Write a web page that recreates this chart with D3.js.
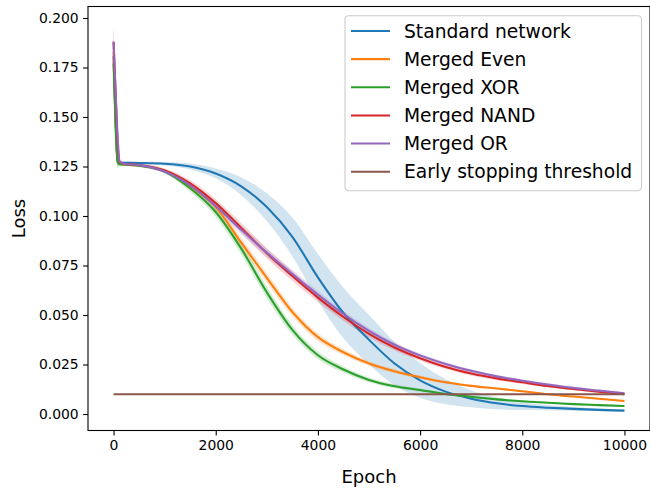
<!DOCTYPE html>
<html>
<head>
<meta charset="utf-8">
<script src="https://cdn.jsdelivr.net/npm/d3@7"></script>
<style>
  html, body { margin: 0; padding: 0; background: #fff; }
  svg { display: block; font-family: "DejaVu Sans", sans-serif; }
</style>
</head>
<body>
<svg id="chart" width="650" height="488"></svg>
<script>
const epochs = [0, 40, 80, 120, 200, 500, 1000, 1500, 2000, 2500, 3000, 3500, 4000,
  4500, 5000, 5500, 6000, 6500, 7000, 7500, 8000, 8500, 9000, 9500, 10000];

const standardMean = [0.181, 0.148, 0.1275, 0.1270, 0.1269, 0.1268, 0.1264, 0.1250, 0.1215, 0.1150, 0.1045, 0.0895, 0.0690,
  0.0510, 0.0375, 0.0255, 0.0170, 0.0113, 0.0077, 0.0054, 0.0040, 0.0032, 0.0026, 0.0021, 0.0017];
const standardStd = [0.006, 0.008, 0.002, 0.0006, 0.0005, 0.0006, 0.0009, 0.0015, 0.0025, 0.0045, 0.007, 0.0098, 0.0118,
  0.0128, 0.0125, 0.011, 0.0088, 0.0064, 0.0043, 0.003, 0.002, 0.0013, 0.0009, 0.0007, 0.0005];

const evenMean = [0.183, 0.150, 0.128, 0.1264, 0.1261, 0.1255, 0.1228, 0.1150, 0.1045, 0.0865, 0.0688, 0.0515, 0.0388,
  0.0312, 0.0255, 0.0216, 0.0186, 0.0160, 0.0142, 0.0129, 0.0115, 0.0100, 0.0088, 0.0077, 0.0066];
const evenStd = [0.006, 0.006, 0.003, 0.001, 0.0008, 0.0008, 0.001, 0.0015, 0.002, 0.0025, 0.0025, 0.0022, 0.002,
  0.0015, 0.0012, 0.001, 0.0008, 0.0007, 0.0006, 0.0005, 0.0005, 0.0004, 0.0004, 0.0004, 0.0003];

const xorMean = [0.177, 0.145, 0.127, 0.1262, 0.1260, 0.1254, 0.1225, 0.1140, 0.1020, 0.0835, 0.0615, 0.0425, 0.0297,
  0.0225, 0.0172, 0.0140, 0.0121, 0.0101, 0.0087, 0.0074, 0.0064, 0.0057, 0.0050, 0.0045, 0.0040];
const xorStd = [0.006, 0.006, 0.003, 0.001, 0.0008, 0.0008, 0.001, 0.0018, 0.0025, 0.003, 0.003, 0.0025, 0.002,
  0.0015, 0.0012, 0.001, 0.0008, 0.0006, 0.0005, 0.0005, 0.0004, 0.0004, 0.0003, 0.0003, 0.0003];

const nandMean = [0.188, 0.162, 0.137, 0.1272, 0.1264, 0.1258, 0.1230, 0.1165, 0.1065, 0.0940, 0.0812, 0.0697, 0.0588,
  0.0490, 0.0405, 0.0336, 0.0282, 0.0238, 0.0205, 0.0180, 0.0160, 0.0141, 0.0126, 0.0112, 0.0100];
const nandStd = [0.008, 0.007, 0.004, 0.0012, 0.0008, 0.0008, 0.001, 0.0015, 0.002, 0.0025, 0.0025, 0.0025, 0.0022,
  0.002, 0.0018, 0.0015, 0.0013, 0.0011, 0.001, 0.0009, 0.0008, 0.0007, 0.0006, 0.0006, 0.0005];

const orMean = [0.188, 0.164, 0.140, 0.1275, 0.1264, 0.1257, 0.1225, 0.1155, 0.1050, 0.0930, 0.0815, 0.0707, 0.0603,
  0.0505, 0.0420, 0.0350, 0.0296, 0.0253, 0.0218, 0.0190, 0.0168, 0.0149, 0.0132, 0.0118, 0.0105];
const orStd = [0.007, 0.007, 0.004, 0.0012, 0.0008, 0.0008, 0.001, 0.0015, 0.002, 0.0022, 0.0022, 0.002, 0.0018,
  0.0016, 0.0014, 0.0012, 0.001, 0.0009, 0.0008, 0.0007, 0.0006, 0.0006, 0.0005, 0.0005, 0.0004];

const threshold = 0.01;

const seriesNames = ["Standard network", "Merged Even", "Merged XOR", "Merged NAND", "Merged OR"];
const seriesMeans = [standardMean, evenMean, xorMean, nandMean, orMean];
const seriesStds = [standardStd, evenStd, xorStd, nandStd, orStd];
const colors = ["#1f77b4", "#ff7f0e", "#2ca02c", "#d62728", "#9467bd", "#8c564b"];
const legendLabels = [...seriesNames, "Early stopping threshold"];

const xTicks = [0, 2000, 4000, 6000, 8000, 10000];
const yTicks = [0, 0.025, 0.05, 0.075, 0.1, 0.125, 0.15, 0.175, 0.2];

const box = { left: 88, right: 650, top: 6.5, bottom: 430.5 };

const svg = d3.select("#chart");

const x = d3.scaleLinear().domain([-500, 10500]).range([box.left, box.right]);
const y = d3.scaleLinear().domain([-0.00833, 0.2058]).range([box.bottom, box.top]);

const series = seriesMeans.map((mean, i) =>
  epochs.map((e, j) => ({ e, m: mean[j], s: seriesStds[i][j] })));

const plot = svg.append("g");

// bands first (matplotlib draws collections below lines)
const area = d3.area()
  .x((d) => x(d.e))
  .y0((d) => y(d.m - d.s))
  .y1((d) => y(d.m + d.s))
  .curve(d3.curveMonotoneX);

plot.selectAll("path.band")
  .data(series)
  .join("path")
  .attr("class", "band")
  .attr("d", area)
  .attr("fill", (_d, i) => colors[i])
  .attr("fill-opacity", 0.2);

const line = d3.line()
  .x((d) => x(d.e))
  .y((d) => y(d.m))
  .curve(d3.curveMonotoneX);

plot.selectAll("path.mean")
  .data(series)
  .join("path")
  .attr("class", "mean")
  .attr("d", line)
  .attr("fill", "none")
  .attr("stroke", (_d, i) => colors[i])
  .attr("stroke-width", 2.08);

plot.append("line")
  .attr("x1", x(0))
  .attr("x2", x(10000))
  .attr("y1", y(threshold))
  .attr("y2", y(threshold))
  .attr("stroke", colors[5])
  .attr("stroke-width", 2.08);

// axes
const xAxis = svg.append("g")
  .attr("transform", `translate(0,${box.bottom})`)
  .call(d3.axisBottom(x).tickValues(xTicks).tickSize(4.9).tickPadding(4.4).tickFormat(d3.format("d")));

const yAxis = svg.append("g")
  .attr("transform", `translate(${box.left},0)`)
  .call(d3.axisLeft(y).tickValues(yTicks).tickSize(4.9).tickPadding(4.4).tickFormat(d3.format(".3f")));

for (const ax of [xAxis, yAxis]) {
  ax.select(".domain").remove();
  ax.selectAll(".tick line").attr("stroke", "#000").attr("stroke-width", 1.1);
  ax.selectAll(".tick text")
    .attr("fill", "#000")
    .style("font-family", "DejaVu Sans")
    .style("font-size", "13.9px");
}

svg.append("rect")
  .attr("x", box.left)
  .attr("y", box.top)
  .attr("width", box.right - box.left)
  .attr("height", box.bottom - box.top)
  .attr("fill", "none")
  .attr("stroke", "#000")
  .attr("stroke-width", 1.1);

svg.append("text")
  .attr("x", (box.left + box.right) / 2)
  .attr("y", 483)
  .attr("text-anchor", "middle")
  .style("font-size", "18px")
  .text("Epoch");

svg.append("text")
  .attr("transform", `translate(25,${(box.top + box.bottom) / 2}) rotate(-90)`)
  .attr("text-anchor", "middle")
  .style("font-size", "18px")
  .text("Loss");

// legend
const legend = svg.append("g");

legend.append("rect")
  .attr("x", 345)
  .attr("y", 15.7)
  .attr("width", 296.5)
  .attr("height", 175)
  .attr("rx", 3.6)
  .attr("fill", "#fff")
  .attr("fill-opacity", 0.8)
  .attr("stroke", "#cccccc")
  .attr("stroke-width", 1.1);

const rows = legend.selectAll("g.row")
  .data(legendLabels)
  .join("g")
  .attr("class", "row")
  .attr("transform", (_d, i) => `translate(0,${31 + i * 28.14})`);

rows.append("line")
  .attr("x1", 351)
  .attr("x2", 390)
  .attr("stroke", (_d, i) => colors[i])
  .attr("stroke-width", 2.08);

rows.append("text")
  .attr("x", 404)
  .attr("y", 6.6)
  .style("font-size", "18.7px")
  .text((d) => d);
</script>
</body>
</html>
